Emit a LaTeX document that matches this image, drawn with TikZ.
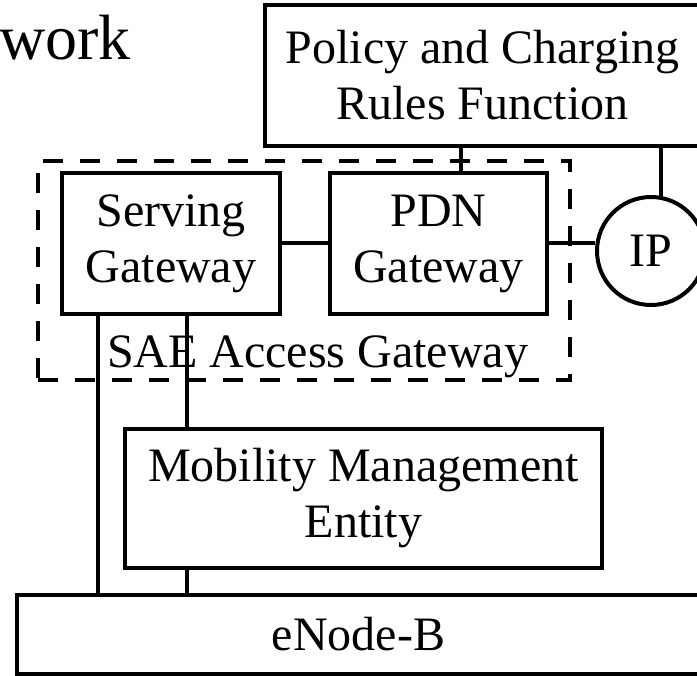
\documentclass[tikz,border=0pt]{standalone}
\usepackage{fontspec}
\setmainfont{Liberation Serif}
\usetikzlibrary{positioning, calc}

\tikzset{
    box/.style={draw, rectangle, align=center, inner sep=0pt,
        font=\fontsize{48}{56}\selectfont},
    txt/.style={inner sep=0pt, font=\fontsize{48}{56}\selectfont}
}

\begin{document}
\begin{tikzpicture}[x=1pt, y=-1pt, line width=4pt]
            \useasboundingbox (0,0) rectangle (697,676);

            % Access gateway frame
            \node[draw, dashed, dash pattern=on 20pt off 17pt, minimum width=532pt, minimum height=219pt] (sae) at (304,270.5) {};
            \node[txt, anchor=base west] (saelbl) at (105,368) {SAE Access Gateway};

            % Top row
            \node[txt, anchor=base east, font=\fontsize{64}{70}\selectfont] (net) at (133,60) {twork};
            \node[box, minimum width=435pt, minimum height=141pt] (pcrf) at (482.5,75.5) {Policy and Charging\\Rules Function};

            % Gateways
            \node[box, minimum width=218pt, minimum height=141pt] (sgw) at (171,243.5) {Serving\\Gateway};
            \node[box, minimum width=217pt, minimum height=141pt] (pgw) at (438.5,243.5) {PDN\\Gateway};
            \node[draw, circle, minimum size=108pt, inner sep=0pt, font=\fontsize{48}{56}\selectfont] (ip) at (651,251) {IP};

            % Lower boxes
            \node[box, minimum width=477pt, minimum height=139pt] (mme) at (363.5,498.5) {Mobility Management\\Entity};
            \node[box, minimum width=683pt, minimum height=79pt] (enb) at (358.5,634.5) {eNode-B};

            % Links
            \draw (sgw.east) -- (pgw.west);
            \draw (pgw.east) -- (ip.west |- pgw.east);
            \draw ([xshift=22pt]pgw.north) -- ([xshift=22pt]pgw.north |- pcrf.south);
            \draw (ip.80) -- (ip.80 |- pcrf.south);
            \draw ([xshift=-73pt]sgw.south) -- ([xshift=-73pt]sgw.south |- enb.north);
            \draw ([xshift=16pt]sgw.south) -- ([xshift=16pt]sgw.south |- mme.north);
            \draw ([xshift=16pt]sgw.south |- mme.south) -- ([xshift=16pt]sgw.south |- enb.north);
        \end{tikzpicture}
\end{document}
